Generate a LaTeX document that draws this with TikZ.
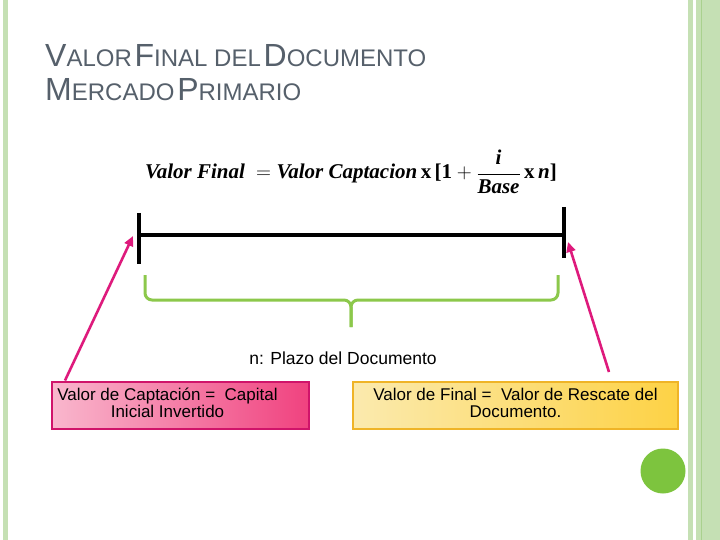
\documentclass[tikz,border=0pt]{standalone}
\usepackage{fontspec}
\setmainfont{Liberation Sans}
\newfontfamily\formfont{Liberation Serif}
\newcommand{\tcap}[2]{{\fontsize{32}{34}\selectfont #1}{\fontsize{24}{34}\selectfont #2}}
\definecolor{bordergreen}{HTML}{C5E0B4}
\definecolor{darkgreenline}{HTML}{A9D18E}
\definecolor{circlegreen}{HTML}{7DC43E}
\definecolor{bracegreen}{HTML}{8CC84B}
\definecolor{titlegray}{HTML}{56606B}
\definecolor{arrowpink}{HTML}{DE1A7C}
\definecolor{pinklight}{HTML}{F9B7CD}
\definecolor{pinkdark}{HTML}{F0427F}
\definecolor{pinkborder}{HTML}{D0146A}
\definecolor{yellowlight}{HTML}{FBEAAE}
\definecolor{yellowdark}{HTML}{FDD245}
\definecolor{yellowborder}{HTML}{EFB427}
\usetikzlibrary{arrows.meta}
\tikzset{
  pinkarrow/.style={draw=arrowpink, line width=2.6pt, -{Triangle[length=10pt,width=9pt]}},
  boxtext/.style={font=\fontsize{17}{18}\selectfont, inner sep=0pt, line width=2pt},
}
\begin{document}
\begin{tikzpicture}[x=1pt,y=-1pt]
\useasboundingbox (0,0) rectangle (720,540);
\fill[white] (0,0) rectangle (720,540);
% borders
\fill[bordergreen] (3,0) rectangle (8,540);
\fill[bordergreen] (688,0) rectangle (693,540);
\fill[bordergreen] (696,0) rectangle (720,540);
\fill[darkgreenline] (700.5,0) rectangle (702,540);
\fill[circlegreen] (663,471) circle (22.5);
% title
\node[anchor=base west, text=titlegray, inner sep=0pt] (t1) at (45,67) {\tcap{V}{ALOR} \tcap{F}{INAL DEL} \tcap{D}{OCUMENTO}};
\node[anchor=base west, text=titlegray, inner sep=0pt] (t2) at (45,101) {\tcap{M}{ERCADO} \tcap{P}{RIMARIO}};
% formula
\node[anchor=base west, inner sep=0pt] (form) at (145,179) {\formfont\fontsize{21}{22}\selectfont
  $\mbox{\bfseries\itshape Valor Final}\ =\mbox{\bfseries\itshape Valor Captacion}\,\mbox{\bfseries x}\,\mbox{\bfseries [1}+\displaystyle\frac{\mbox{\bfseries\itshape i}}{\mbox{\bfseries\itshape Base}}\,\mbox{\bfseries x}\,\mbox{\bfseries\itshape n}\mbox{\bfseries ]}$};
% timeline
\coordinate (L) at (139,235);
\coordinate (R) at (564,235);
\coordinate (Ltop) at (139,213);
\coordinate (Lbot) at (139,264);
\coordinate (Rtop) at (564,207);
\coordinate (Rbot) at (564,258);
\draw[line width=4pt] (L) -- (R);
\draw[line width=4pt] (Ltop) -- (Lbot);
\draw[line width=4pt] (Rtop) -- (Rbot);
% brace
\coordinate (bl) at (145,275);
\coordinate (br) at (558,275);
\coordinate (bm) at (351,327);
\draw[bracegreen, line width=3pt, rounded corners=7pt] (bl) -- (145,300) -- (351,300) -- (bm);
\draw[bracegreen, line width=3pt, rounded corners=7pt] (br) -- (558,300) -- (351,300) -- (bm);
\node[font=\fontsize{17.5}{19}\selectfont, inner sep=0pt] (nlab) at (343,358) {n: Plazo del Documento};
% boxes
\node[boxtext, draw=pinkborder, left color=pinklight, right color=pinkdark, minimum width=257pt, minimum height=47pt] (capt) at (180.5,405) {\begin{tabular}{@{}c@{}}Valor de Captación =\ \ Capital\\[-1pt]Inicial Invertido\end{tabular}\kern26pt\relax};
\node[boxtext, draw=yellowborder, left color=yellowlight, right color=yellowdark, minimum width=325pt, minimum height=47pt] (fin) at (515.5,405.5) {\begin{tabular}{@{}c@{}}Valor de Final =\ \ Valor de Rescate del\\[-1pt]Documento.\end{tabular}};
% arrows
\coordinate (a1e) at (133,236);
\coordinate (a2s) at (609,372);
\coordinate (a2e) at (568,242);
\draw[pinkarrow] ([xshift=14pt]capt.north west) -- (a1e);
\draw[pinkarrow] (a2s) -- (a2e);
\end{tikzpicture}
\end{document}
